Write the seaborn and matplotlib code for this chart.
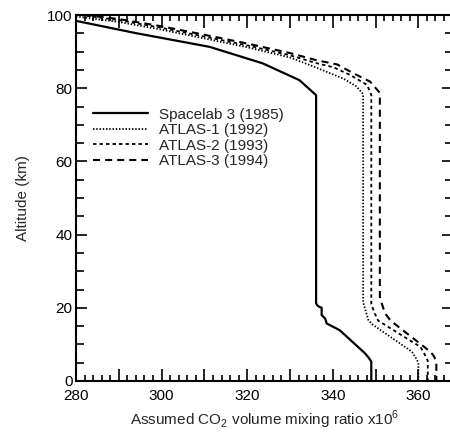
import matplotlib
matplotlib.use("Agg")
import matplotlib.pyplot as plt
from matplotlib.ticker import MultipleLocator, FuncFormatter
import seaborn as sns

# Assumed CO2 profiles (volume mixing ratio x1e6) versus altitude (km)
spacelab3_co2 = [280.0, 294.2, 311.2, 323.6, 332.2, 336.1, 336.1, 336.5, 337.4, 337.4,
                 338.2, 338.6, 341.6, 347.5, 348.3, 349.0, 349.0]
spacelab3_alt = [98.4, 95.0, 91.3, 86.8, 82.2, 78.1, 21.2, 20.5, 20.0, 18.0,
                 17.1, 15.7, 13.9, 7.6, 6.5, 5.3, 0.0]

atlas1_co2 = [280.0, 290.0, 300.0, 310.0, 320.0, 330.0, 336.0, 342.5, 345.5, 347.1,
              347.1, 347.6, 348.3, 349.2, 358.5, 359.3, 360.0, 360.0]
atlas1_alt = [99.6, 98.1, 96.0, 93.6, 91.2, 88.4, 85.7, 82.6, 80.5, 78.4,
              21.5, 19.5, 16.7, 15.5, 8.0, 6.5, 5.0, 0.0]

atlas2_co2 = [281.0, 290.0, 300.0, 310.0, 320.0, 330.0, 336.0, 340.2, 344.1, 348.0,
              349.0, 349.0, 349.8, 350.6, 360.5, 361.6, 362.2, 362.2]
atlas2_alt = [100.0, 98.6, 96.5, 94.1, 91.7, 89.0, 86.9, 85.7, 83.6, 80.9,
              78.2, 21.0, 18.5, 16.5, 9.3, 7.0, 5.5, 0.0]

atlas3_co2 = [282.0, 290.0, 300.0, 310.0, 320.0, 330.0, 336.0, 341.0, 344.8, 348.7,
              350.8, 351.0, 351.0, 351.5, 352.2, 353.5, 362.8, 363.5, 364.2, 364.2]
atlas3_alt = [100.0, 98.9, 96.9, 94.6, 92.2, 89.6, 87.7, 86.5, 84.1, 81.8,
              79.0, 78.0, 23.0, 21.0, 18.5, 16.5, 8.0, 7.0, 5.5, 0.0]

series_labels = ["Spacelab 3 (1985)", "ATLAS-1 (1992)", "ATLAS-2 (1993)", "ATLAS-3 (1994)"]

sns.set_style("ticks")
plt.rcParams["font.family"] = ["Liberation Sans", "DejaVu Sans"]
plt.rcParams["mathtext.fontset"] = "custom"
plt.rcParams["mathtext.rm"] = "Liberation Sans"

fig = plt.figure(figsize=(4.5, 4.33), dpi=100)
ax = fig.add_axes([76 / 450, 52 / 433, 376.6 / 450, 366 / 433])

profiles = [
    (spacelab3_co2, spacelab3_alt, dict(lw=1.6, linestyle="-")),
    (atlas1_co2, atlas1_alt, dict(lw=1.3, linestyle=(0, (0.8, 1.0)))),
    (atlas2_co2, atlas2_alt, dict(lw=1.3, linestyle=(0, (1.9, 1.7)))),
    (atlas3_co2, atlas3_alt, dict(lw=1.5, linestyle=(0, (3.4, 2.4)))),
]
for (co2, alt, style), label in zip(profiles, series_labels):
    sns.lineplot(x=co2, y=alt, sort=False, estimator=None, ax=ax,
                 color="black", label=label, **style)

ax.set_xlim(280, 368)
ax.set_ylim(0, 100)

ax.xaxis.set_major_locator(MultipleLocator(10))
ax.xaxis.set_minor_locator(MultipleLocator(2))
ax.xaxis.set_major_formatter(FuncFormatter(lambda v, p: f"{int(round(v))}" if round(v) % 20 == 0 else ""))
ax.yaxis.set_major_locator(MultipleLocator(20))
ax.yaxis.set_minor_locator(MultipleLocator(5))

ax.tick_params(which="both", direction="in", top=True, right=True,
               width=1.2, colors="black", labelsize=11)
ax.tick_params(axis="x", which="major", length=9, pad=6)
ax.tick_params(axis="x", which="minor", length=4.5)
ax.tick_params(axis="y", which="major", length=8, pad=2.5)
ax.tick_params(axis="y", which="minor", length=6)

for side in ax.spines.values():
    side.set_linewidth(1.5)
    side.set_color("black")

ax.set_xlabel("Assumed CO$_2$ volume mixing ratio x10$^6$", fontsize=11, labelpad=4)
ax.set_ylabel("Altitude (km)", fontsize=11, labelpad=12)

ax.legend(loc="upper left", bbox_to_anchor=(0.045, 0.747), frameon=False,
          fontsize=11, handlelength=3.6, handletextpad=0.75,
          labelspacing=0.1, borderaxespad=0, borderpad=0)

fig.savefig("out.png", dpi=100)
